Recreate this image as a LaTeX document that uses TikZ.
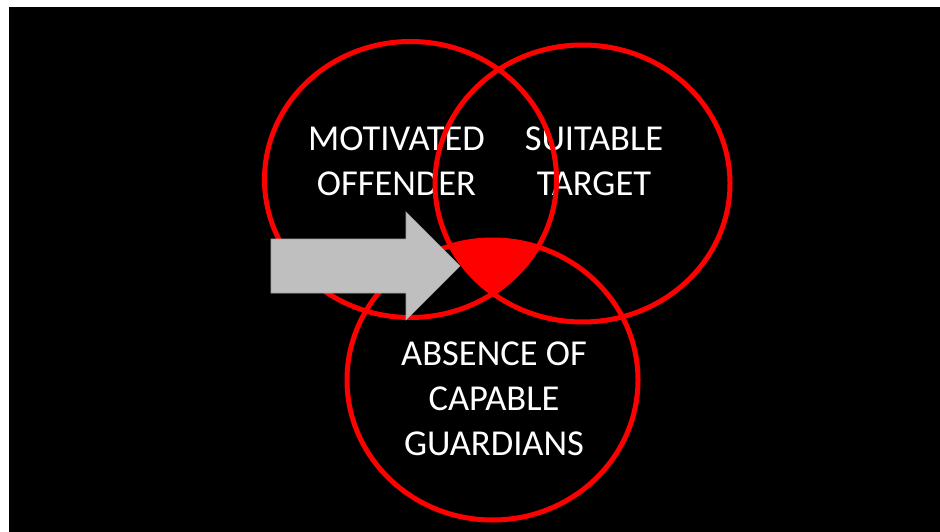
\documentclass[tikz,border=0pt]{standalone}
\usepackage{fontspec}
\setmainfont{Carlito}
\definecolor{ringred}{HTML}{FF0000}
\definecolor{arrowgrey}{HTML}{BFBFBF}
\tikzset{
	ring/.style={draw=ringred, line width=5pt},
	label/.style={text=white, align=center, inner sep=0pt, font=\fontsize{36.5}{45}\selectfont}
}

\begin{document}
\begin{tikzpicture}[x=1pt, y=-1pt]

				\useasboundingbox (0, 0) rectangle (940, 532);
				\fill [white] (0, 0) rectangle (940, 532);
				\fill [black] (9, 7) rectangle (940, 532);

				\node [label] (offender) at (396.5, 161.5) {MOTIVATED\\OFFENDER};
				\node [label] (target) at (594, 161.5) {SUITABLE\\TARGET};
				\node [label] (guardians) at (494, 398.5) {ABSENCE OF\\CAPABLE\\GUARDIANS};

				\begin{scope}
					\clip (410.5, 179.5) ellipse [x radius=146pt, y radius=138pt];
					\clip (582.5, 183.5) ellipse [x radius=147.5pt, y radius=138.5pt];
					\fill [ringred] (492.5, 380) ellipse [x radius=145.5pt, y radius=140pt];
				\end{scope}

				\draw [ring] (410.5, 179.5) ellipse [x radius=146pt, y radius=138pt];
				\draw [ring] (582.5, 183.5) ellipse [x radius=147.5pt, y radius=138.5pt];
				\draw [ring] (492.5, 380) ellipse [x radius=145.5pt, y radius=140pt];

				\fill [arrowgrey, draw=arrowgrey!85!black, line width=0.6pt] (271, 239) -- (406, 239) -- (406, 212) -- (460, 266) -- (406, 320) -- (406, 293) -- (271, 293) -- cycle;
		\end{tikzpicture}
\end{document}
